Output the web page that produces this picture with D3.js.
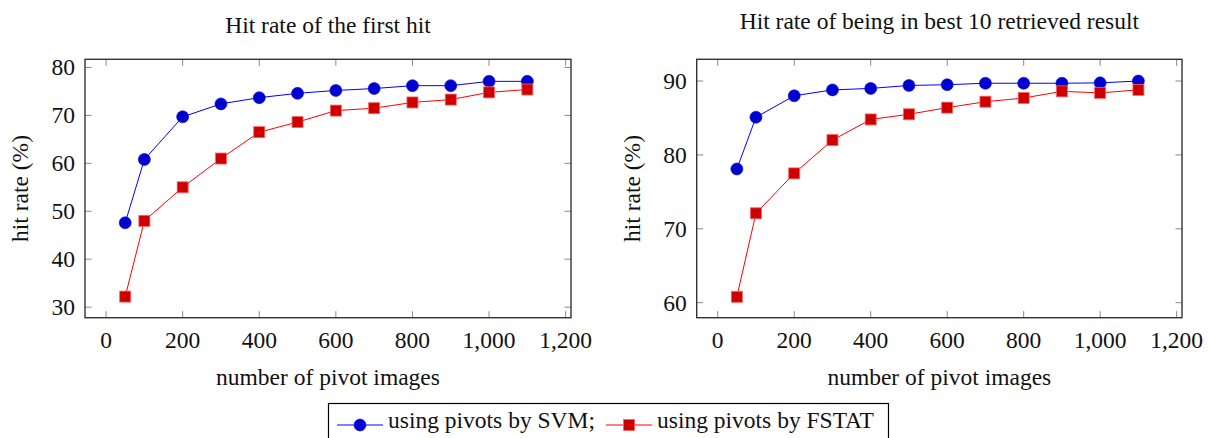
<!DOCTYPE html>
<html>
<head>
<meta charset="utf-8">
<script src="https://cdn.jsdelivr.net/npm/d3@7"></script>
<style>
  body { margin: 0; background: #fff; }
  text { font-family: "Liberation Serif", "DejaVu Serif", serif; fill: #111; }
</style>
</head>
<body>
<div id="chart"></div>
<script>
// Data
const pivots = [50, 100, 200, 300, 400, 500, 600, 700, 800, 900, 1000, 1100];
const firstHitSVM   = [47.6, 60.8, 69.7, 72.4, 73.7, 74.6, 75.2, 75.6, 76.2, 76.2, 77.1, 77.1];
const firstHitFSTAT = [32.2, 48.0, 55.0, 61.0, 66.5, 68.6, 71.0, 71.5, 72.7, 73.3, 74.8, 75.4];
const top10SVM      = [78.1, 85.1, 88.0, 88.8, 89.0, 89.4, 89.5, 89.7, 89.7, 89.7, 89.75, 90.0];
const top10FSTAT    = [60.8, 72.1, 77.5, 82.0, 84.8, 85.5, 86.4, 87.2, 87.7, 88.6, 88.4, 88.8];
const xTicks = [0, 200, 400, 600, 800, 1000, 1200];
const yTicksLeft = [30, 40, 50, 60, 70, 80];
const yTicksRight = [60, 70, 80, 90];
const seriesNames = ["using pivots by SVM;", "using pivots by FSTAT"];

const width = 1209;
const height = 438;
const fontSize = 23.5;

const svg = d3.select('#chart')
    .append('svg')
    .attr('width', width)
    .attr('height', height);

const blue = { line: '#0000ff', fill: '#0000cc' };
const red = { line: '#ff0000', fill: '#cc0000' };

function drawPanel(opts) {
    const x = d3.scaleLinear().domain([-55, 1214]).range([opts.left, opts.right]);
    const y = d3.scaleLinear().domain(opts.yDomain).range([opts.bottom, opts.top]);
    const g = svg.append('g');

    // Title
    g.append('text')
        .attr('x', (opts.left + opts.right) / 2)
        .attr('y', opts.titleY)
        .attr('text-anchor', 'middle')
        .style('font-size', fontSize + 'px')
        .text(opts.title);

    // Inside ticks on all four sides
    const tickLen = 6.5;
    xTicks.forEach(t => {
        g.append('line').attr('x1', x(t)).attr('x2', x(t))
            .attr('y1', opts.bottom).attr('y2', opts.bottom - tickLen)
            .attr('stroke', '#888').attr('stroke-width', 1);
        g.append('line').attr('x1', x(t)).attr('x2', x(t))
            .attr('y1', opts.top).attr('y2', opts.top + tickLen)
            .attr('stroke', '#888').attr('stroke-width', 1);
        g.append('text')
            .attr('x', x(t))
            .attr('y', opts.bottom + 30)
            .attr('text-anchor', 'middle')
            .style('font-size', fontSize + 'px')
            .text(d3.format(',')(t));
    });
    opts.yTicks.forEach(t => {
        g.append('line').attr('x1', opts.left).attr('x2', opts.left + tickLen)
            .attr('y1', y(t)).attr('y2', y(t))
            .attr('stroke', '#888').attr('stroke-width', 1);
        g.append('line').attr('x1', opts.right).attr('x2', opts.right - tickLen)
            .attr('y1', y(t)).attr('y2', y(t))
            .attr('stroke', '#888').attr('stroke-width', 1);
        g.append('text')
            .attr('x', opts.left - 10)
            .attr('y', y(t))
            .attr('dy', '0.34em')
            .attr('text-anchor', 'end')
            .style('font-size', fontSize + 'px')
            .text(t);
    });

    // Frame
    g.append('rect')
        .attr('x', opts.left).attr('y', opts.top)
        .attr('width', opts.right - opts.left)
        .attr('height', opts.bottom - opts.top)
        .attr('fill', 'none')
        .attr('stroke', '#333')
        .attr('stroke-width', 1.4);

    // Axis labels
    g.append('text')
        .attr('x', (opts.left + opts.right) / 2)
        .attr('y', opts.bottom + 67)
        .attr('text-anchor', 'middle')
        .style('font-size', fontSize + 'px')
        .text('number of pivot images');
    g.append('text')
        .attr('transform', `translate(${opts.left - 57},${(opts.top + opts.bottom) / 2}) rotate(-90)`)
        .attr('text-anchor', 'middle')
        .style('font-size', fontSize + 'px')
        .text('hit rate (%)');

    const line = d3.line()
        .x((d, i) => x(pivots[i]))
        .y(d => y(d));

    // SVM series
    g.append('path').datum(opts.svm)
        .attr('d', line).attr('fill', 'none')
        .attr('stroke', blue.line).attr('stroke-width', 1);
    g.selectAll('.dot').data(opts.svm).enter()
        .append('circle')
        .attr('cx', (d, i) => x(pivots[i]))
        .attr('cy', d => y(d))
        .attr('r', 6)
        .attr('fill', blue.fill)
        .attr('stroke', blue.line)
        .attr('stroke-width', 0.6);

    // FSTAT series
    g.append('path').datum(opts.fstat)
        .attr('d', line).attr('fill', 'none')
        .attr('stroke', red.line).attr('stroke-width', 1);
    g.selectAll('.sq').data(opts.fstat).enter()
        .append('rect')
        .attr('x', (d, i) => x(pivots[i]) - 5.5)
        .attr('y', d => y(d) - 5.5)
        .attr('width', 11).attr('height', 11)
        .attr('fill', red.fill)
        .attr('stroke', '#ff6060')
        .attr('stroke-width', 0.8);
}

drawPanel({
    left: 85, right: 571, top: 59.3, bottom: 317.7,
    yDomain: [27.8, 81.7], yTicks: yTicksLeft,
    title: 'Hit rate of the first hit', titleY: 33,
    svm: firstHitSVM, fstat: firstHitFSTAT
});

drawPanel({
    left: 696.7, right: 1182, top: 59.3, bottom: 317.7,
    yDomain: [57.97, 92.94], yTicks: yTicksRight,
    title: 'Hit rate of being in best 10 retrieved result', titleY: 29,
    svm: top10SVM, fstat: top10FSTAT
});

// Legend
const legend = svg.append('g');
legend.append('rect')
    .attr('x', 328.5).attr('y', 403.5)
    .attr('width', 560).attr('height', 50)
    .attr('fill', '#fff')
    .attr('stroke', '#000').attr('stroke-width', 1.2);

const legendY = 425;
const items = [
    { name: seriesNames[0], x0: 337, style: blue, shape: 'circle' },
    { name: seriesNames[1], x0: 606, style: red, shape: 'square' }
];
items.forEach(it => {
    legend.append('line')
        .attr('x1', it.x0).attr('x2', it.x0 + 46)
        .attr('y1', legendY).attr('y2', legendY)
        .attr('stroke', it.style.line).attr('stroke-width', 1);
    if (it.shape === 'circle') {
        legend.append('circle')
            .attr('cx', it.x0 + 23).attr('cy', legendY).attr('r', 6)
            .attr('fill', it.style.fill).attr('stroke', it.style.line).attr('stroke-width', 0.6);
    } else {
        legend.append('rect')
            .attr('x', it.x0 + 23 - 5.5).attr('y', legendY - 5.5)
            .attr('width', 11).attr('height', 11)
            .attr('fill', it.style.fill).attr('stroke', '#ff6060').attr('stroke-width', 0.8);
    }
    legend.append('text')
        .attr('x', it.x0 + 51)
        .attr('y', legendY + 3)
        .style('font-size', fontSize + 'px')
        .text(it.name);
});
</script>
</body>
</html>
